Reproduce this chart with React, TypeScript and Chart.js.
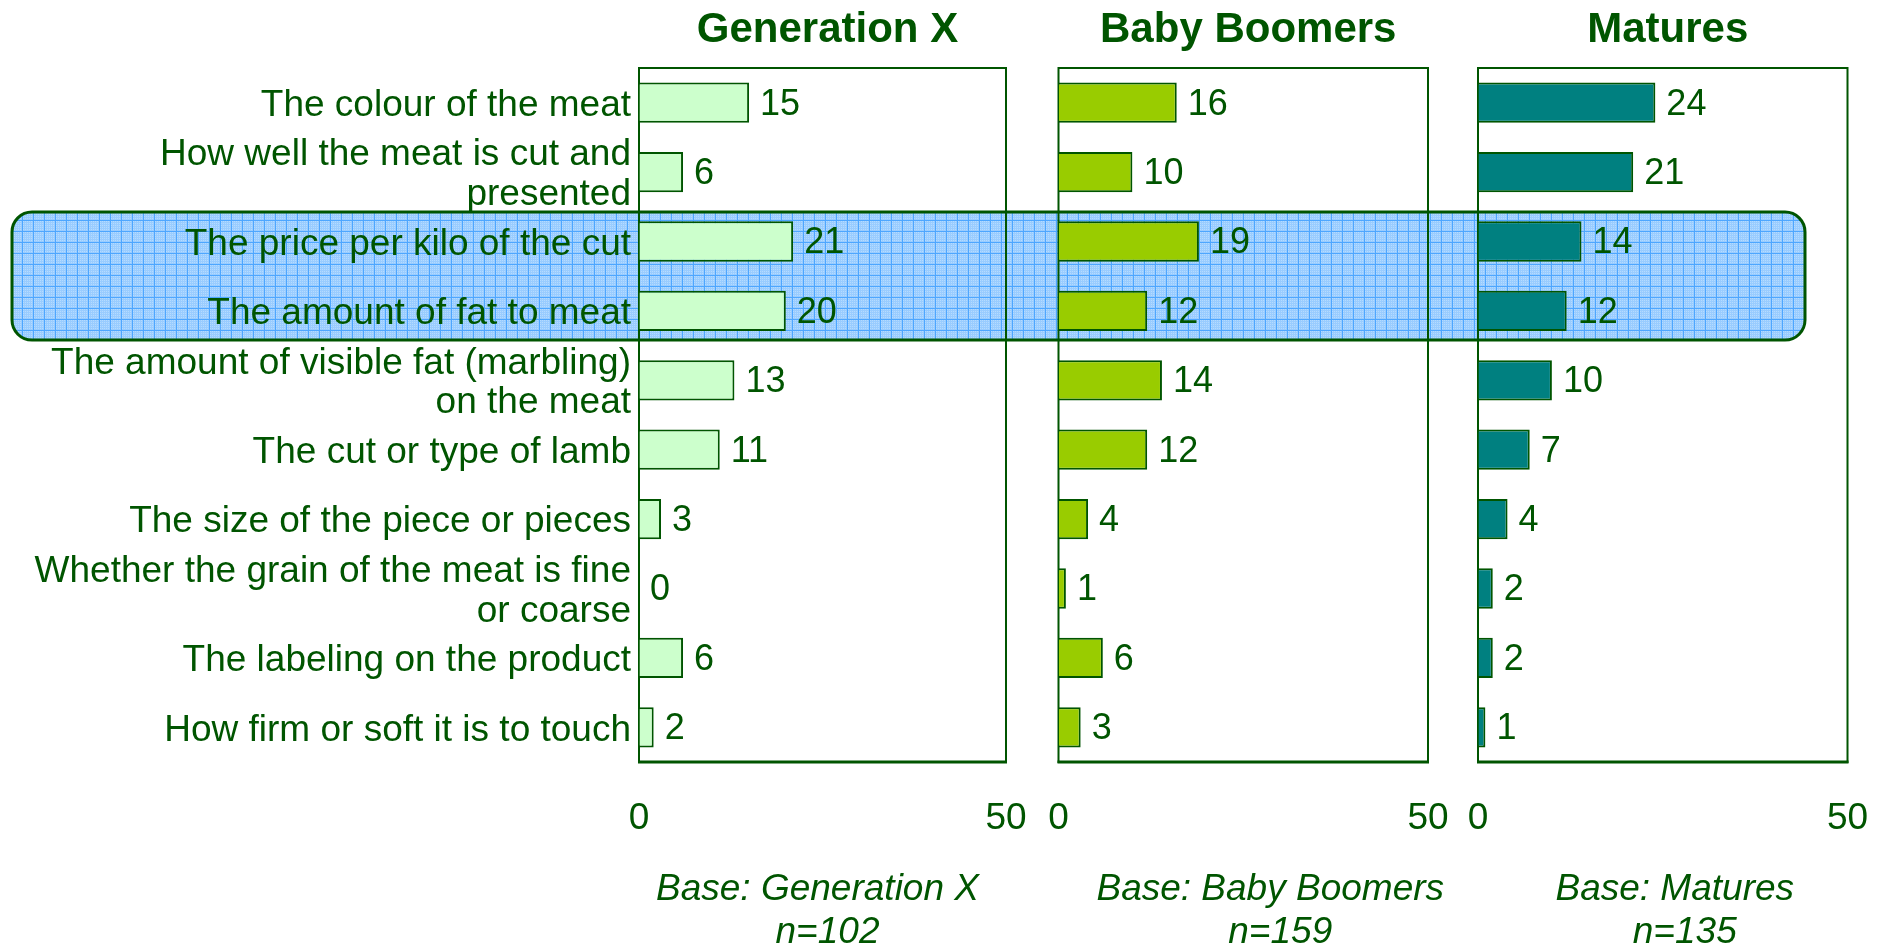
import React, { useEffect, useRef } from 'react';
import { Chart, registerables } from 'chart.js';

Chart.register(...registerables);

// ---------- data ----------
const categories: (string | string[])[] = [
  'The colour of the meat',
  ['How well the meat is cut and', 'presented'],
  'The price per kilo of the cut',
  'The amount of fat to meat',
  ['The amount of visible fat (marbling)', 'on the meat'],
  'The cut or type of lamb',
  'The size of the piece or pieces',
  ['Whether the grain of the meat is fine', 'or coarse'],
  'The labeling on the product',
  'How firm or soft it is to touch',
];
const genXValues = [15, 6, 21, 20, 13, 11, 3, 0, 6, 2];
const babyBoomerValues = [16, 10, 19, 12, 14, 12, 4, 1, 6, 3];
const maturesValues = [24, 21, 14, 12, 10, 7, 4, 2, 2, 1];
const panelTitles = ['Generation X', 'Baby Boomers', 'Matures'];
const baseLabels = ['Base: Generation X', 'Base: Baby Boomers', 'Base: Matures'];
const sampleSizes = ['n=102', 'n=159', 'n=135'];
const xTickValues = [0, 50];
const highlightedCategories = [2, 3];

// ---------- styles ----------
const TEXT = '#005500';
const FONT = "'Liberation Sans', Arial, Helvetica, sans-serif";
const H = 949;
const HL_LEFT = 12;
const HL_RIGHT = 1805;

Chart.defaults.font.family = FONT;

const panels = [
  { left: 0, width: 1032, padL: 0, padR: 26, showLabels: true, values: genXValues, fill: '#CCFFCC', baseDx: [-5, 5] },
  { left: 1032, width: 421, padL: 26.5, padR: 25, showLabels: false, values: babyBoomerValues, fill: '#99CC00', baseDx: [27, 37] },
  { left: 1453, width: 433, padL: 25, padR: 38.5, showLabels: false, values: maturesValues, fill: '#008080', baseDx: [12, 22] },
];

function makePattern(ctx: CanvasRenderingContext2D) {
  const c = document.createElement('canvas');
  c.width = 11;
  c.height = 11;
  const p = c.getContext('2d')!;
  p.fillStyle = '#99CCFF';
  p.fillRect(0, 0, 11, 11);
  p.fillStyle = '#B5DBFF';
  for (let y = 1; y < 11; y += 2) for (let x = 1; x < 11; x += 2) p.fillRect(x, y, 1, 1);
  p.fillStyle = '#4DA6FF';
  p.fillRect(0, 0, 11, 1);
  p.fillRect(0, 0, 1, 11);
  return ctx.createPattern(c, 'repeat')!;
}

function roundRect(ctx: CanvasRenderingContext2D, x: number, y: number, w: number, h: number, r: number) {
  ctx.beginPath();
  ctx.moveTo(x + r, y);
  ctx.lineTo(x + w - r, y);
  ctx.arcTo(x + w, y, x + w, y + r, r);
  ctx.lineTo(x + w, y + h - r);
  ctx.arcTo(x + w, y + h, x + w - r, y + h, r);
  ctx.lineTo(x + r, y + h);
  ctx.arcTo(x, y + h, x, y + h - r, r);
  ctx.lineTo(x, y + r);
  ctx.arcTo(x, y, x + r, y, r);
  ctx.closePath();
}

function Panel({ idx }: { idx: number }) {
  const ref = useRef<HTMLCanvasElement | null>(null);
  const panel = panels[idx];

  useEffect(() => {
    const canvas = ref.current!;
    const decor = {
      id: 'decor',
      beforeDraw(chart: any) {
        const ctx = chart.ctx as CanvasRenderingContext2D;
        const ys = chart.scales.y;
        const step = (ys.bottom - ys.top) / categories.length;
        const top = ys.getPixelForValue(highlightedCategories[0]) - 0.425 * step;
        const bottom = ys.getPixelForValue(highlightedCategories[highlightedCategories.length - 1]) + 0.42 * step;
        ctx.save();
        ctx.translate(-panel.left, 0);
        roundRect(ctx, HL_LEFT, top, HL_RIGHT - HL_LEFT, bottom - top, 20);
        ctx.fillStyle = makePattern(ctx);
        ctx.fill();
        ctx.lineWidth = 3;
        ctx.strokeStyle = TEXT;
        ctx.stroke();
        ctx.restore();
      },
      beforeDatasetsDraw(chart: any) {
        const ctx = chart.ctx as CanvasRenderingContext2D;
        const a = chart.chartArea;
        ctx.save();
        ctx.strokeStyle = TEXT;
        ctx.lineWidth = 2;
        ctx.strokeRect(a.left, a.top, a.right - a.left, a.bottom - a.top);
        ctx.lineWidth = 3;
        ctx.beginPath();
        ctx.moveTo(a.left - 1, a.bottom);
        ctx.lineTo(a.right + 1, a.bottom);
        ctx.stroke();
        ctx.restore();
      },
      afterDatasetsDraw(chart: any) {
        const ctx = chart.ctx as CanvasRenderingContext2D;
        const meta = chart.getDatasetMeta(0);
        ctx.save();
        ctx.fillStyle = TEXT;
        ctx.font = `36px ${FONT}`;
        ctx.textAlign = 'left';
        ctx.textBaseline = 'middle';
        meta.data.forEach((el: any, i: number) => {
          ctx.fillText(String(panel.values[i]), el.x + 11, el.y + 2);
        });
        ctx.restore();
      },
      afterDraw(chart: any) {
        const ctx = chart.ctx as CanvasRenderingContext2D;
        const a = chart.chartArea;
        const cx = (a.left + a.right) / 2;
        ctx.save();
        ctx.fillStyle = TEXT;
        ctx.textAlign = 'center';
        ctx.textBaseline = 'alphabetic';
        ctx.font = `bold 42px ${FONT}`;
        ctx.fillText(panelTitles[idx], cx + 5, 42);
        ctx.font = `italic 37px ${FONT}`;
        ctx.textBaseline = 'middle';
        ctx.fillText(baseLabels[idx], cx + panel.baseDx[0], 890);
        ctx.fillText(sampleSizes[idx], cx + panel.baseDx[1], 933);
        ctx.restore();
      },
    };

    const chart = new Chart(canvas, {
      type: 'bar',
      data: {
        labels: categories,
        datasets: [
          {
            data: panel.values,
            backgroundColor: panel.fill,
            borderColor: TEXT,
            borderWidth: 2,
            borderSkipped: 'start',
            barPercentage: 0.58,
            categoryPercentage: 1,
          },
        ],
      },
      options: {
        indexAxis: 'y',
        responsive: false,
        animation: false,
        devicePixelRatio: 1,
        layout: { padding: { left: panel.padL, right: panel.padR, top: 68, bottom: 0 } },
        plugins: { legend: { display: false }, tooltip: { enabled: false }, title: { display: false } },
        scales: {
          x: {
            type: 'linear',
            min: 0,
            max: 50,
            afterBuildTicks: (s: any) => {
              s.ticks = xTickValues.map((v) => ({ value: v }));
            },
            afterFit: (s: any) => {
              s.height = H - 762;
            },
            ticks: {
              color: TEXT,
              font: { size: 37, family: FONT },
              padding: 2,
              maxRotation: 0,
              autoSkip: false,
            },
            grid: {
              display: true,
              drawOnChartArea: false,
              drawTicks: true,
              tickLength: 33,
              tickColor: 'rgba(0,0,0,0)',
              color: 'rgba(0,0,0,0)',
            },
            border: { display: false },
          },
          y: {
            type: 'category',
            display: panel.showLabels,
            afterFit: (s: any) => {
              if (panel.showLabels) s.width = 639;
            },
            ticks: {
              color: TEXT,
              font: { size: 37, family: FONT, lineHeight: 1.08 },
              padding: 8,
              labelOffset: 3,
              autoSkip: false,
            },
            grid: { display: false, drawTicks: false },
            border: { display: false },
          },
        },
      },
      plugins: [decor],
    } as any);
    return () => chart.destroy();
  }, []);

  return (
    <canvas
      ref={ref}
      width={panel.width}
      height={H}
      style={{ position: 'absolute', left: panel.left, top: 0, width: panel.width, height: H, display: 'block' }}
    />
  );
}

export default function App() {
  return (
    <div style={{ position: 'absolute', left: 0, top: 0, width: 1886, height: H, background: '#ffffff', overflow: 'hidden' }}>
      {panels.map((_, i) => (
        <Panel key={i} idx={i} />
      ))}
    </div>
  );
}
